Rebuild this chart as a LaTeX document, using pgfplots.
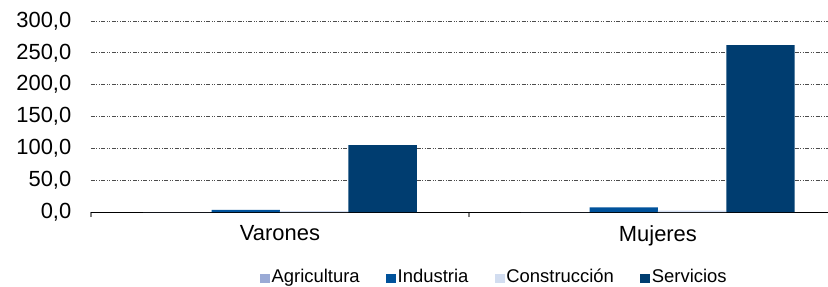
\documentclass[border=0pt]{standalone}
\usepackage{pgfplots}
\pgfplotsset{compat=1.18}
\usepackage{fontspec}
\setmainfont{Liberation Sans}
\definecolor{cAgr}{RGB}{154,170,213}
\definecolor{cInd}{RGB}{0,82,155}
\definecolor{cCon}{RGB}{210,221,240}
\definecolor{cSer}{RGB}{0,61,112}
\begin{document}
\begin{tikzpicture}[x=1bp,y=1bp]
\begin{axis}[
  at={(0,0)}, anchor=south west,
  scale only axis, width=737bp, height=191bp,
  xmin=-0.5, xmax=1.45, ymin=0, ymax=300,
  axis lines*=left,
  x axis line style={draw=black, line width=1bp},
  y axis line style={draw=none},
  xtick={0,1}, xticklabels={Varones,Mujeres},
  minor xtick={-0.5,0.5,1.5},
  major x tick style={draw=none},
  minor x tick style={draw=gray, line width=1.2bp},
  minor tick length=5bp,
  tick align=outside,
  ytick={0,50,...,300},
  major y tick style={draw=none},
  ymajorgrids,
  grid style={line width=0.9bp, color=black!70, dash pattern=on 4bp off 1.5bp on 1bp off 1.5bp on 1bp off 1.5bp},
  yticklabel style={font=\fontsize{22}{24}\selectfont, xshift=-12bp},
  xticklabel style={font=\fontsize{22}{24}\selectfont, yshift=-6bp},
  /pgf/number format/.cd, fixed, fixed zerofill, precision=1, use comma, assume math mode=true,
  /pgfplots/.cd,
  legend style={at={(0.547,-0.346)}, anchor=center, draw=none, font=\fontsize{18.5}{20}\selectfont,
    legend columns=4, column sep=0bp, nodes={inner xsep=1.5bp, text height=13.3bp, text depth=3.9bp},
    /tikz/every even column/.append style={column sep=25bp}},
  legend image code/.code={\fill[#1] (0bp,-4.7bp) rectangle (10bp,4.5bp);},
  legend cell align=left,
]
\addplot[ybar, bar width=0.181, bar shift=-0.2715, fill=cAgr, draw=none] coordinates {(0,0) (1,0)};
\addplot[ybar, bar width=0.181, bar shift=-0.0905, fill=cInd, draw=none] coordinates {(0,3.2) (1,7.4)};
\addplot[ybar, bar width=0.181, bar shift=0.0905, fill=cCon, draw=none] coordinates {(0,1.5) (1,2)};
\addplot[ybar, bar width=0.181, bar shift=0.2715, fill=cSer, draw=none] coordinates {(0,105.1) (1,262.0)};
\legend{Agricultura,Industria,Construcción,Servicios}
\end{axis}
\pgfresetboundingbox
\path[use as bounding box] (-91bp,-75bp) rectangle (737bp,212bp);
\end{tikzpicture}
\end{document}
